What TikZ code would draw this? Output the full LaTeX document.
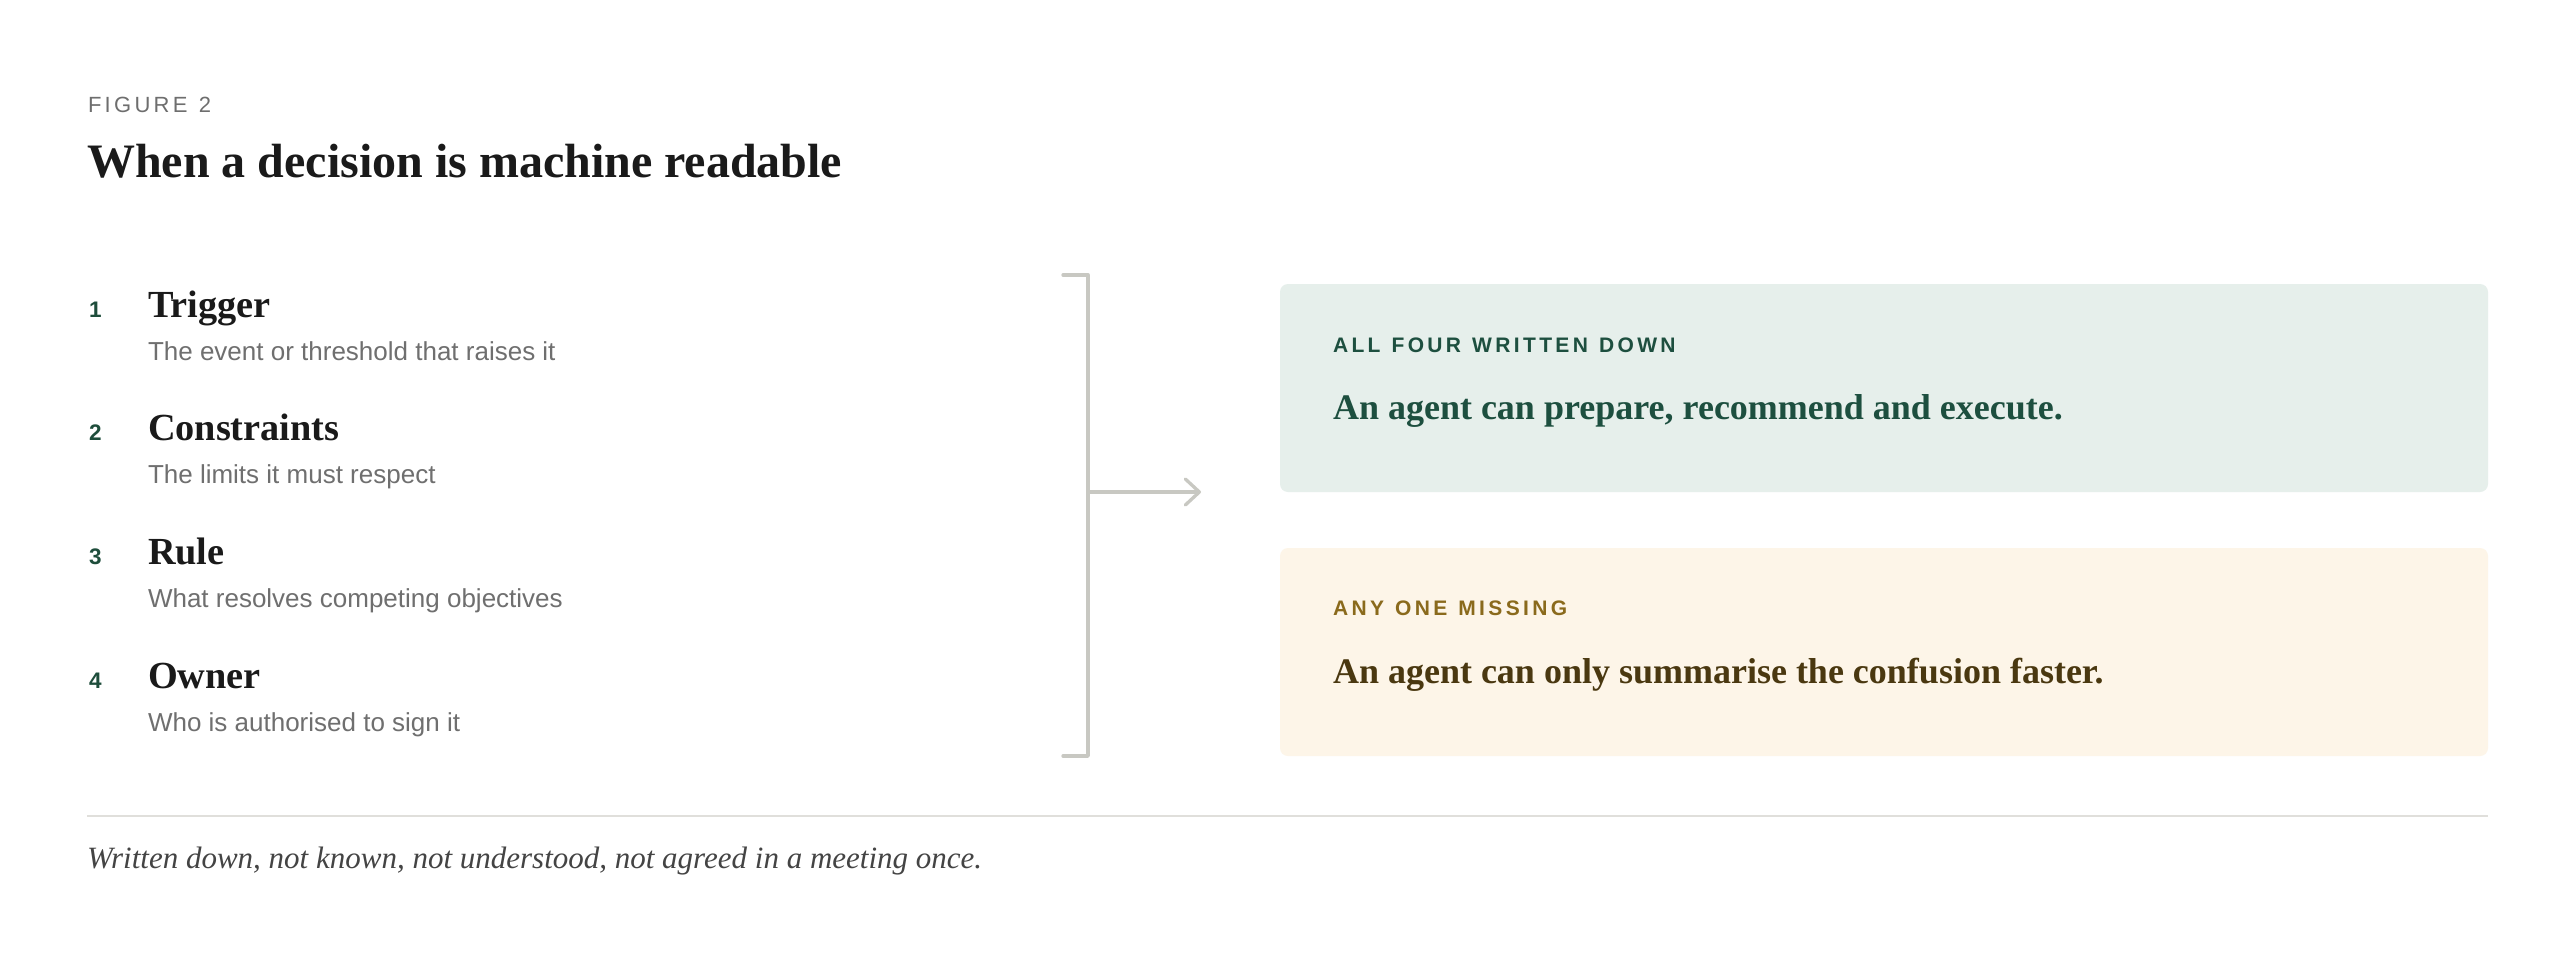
\documentclass[tikz,border=0pt]{standalone}
\usepackage{fontspec}
\setmainfont{Liberation Serif}
\setsansfont{Liberation Sans}
\newfontfamily\trackfont{Liberation Sans}[LetterSpace=15,WordSpace=1.2]
\newfontfamily\trackfontb{Liberation Sans}[LetterSpace=16,WordSpace=1.2]
\usetikzlibrary{arrows.meta}
\definecolor{ink}{HTML}{1A1A1A}
\definecolor{figgray}{HTML}{6E6E6E}
\definecolor{subgray}{HTML}{6F6F6F}
\definecolor{numgreen}{HTML}{1E4D3B}
\definecolor{bracketgray}{HTML}{C8C8C2}
\definecolor{rulegray}{HTML}{E0DFDB}
\definecolor{greenfill}{HTML}{E6EFEB}
\definecolor{greentext}{HTML}{1D4F3F}
\definecolor{ambfill}{HTML}{FDF5E8}
\definecolor{amblabel}{HTML}{8A6A1C}
\definecolor{ambtext}{HTML}{4A3810}
\definecolor{footgray}{HTML}{444444}
\begin{document}
\begin{tikzpicture}[x=1pt,y=-1pt,
  txt/.style={anchor=base west, inner sep=0pt, outer sep=0pt},
  numstyle/.style={txt, text=numgreen, font=\sffamily\bfseries\fontsize{22.5}{26}\selectfont},
  itemtitle/.style={txt, text=ink, font=\bfseries\fontsize{38.3}{44}\selectfont},
  itemsub/.style={txt, text=subgray, font=\sffamily\fontsize{26}{30}\selectfont},
  panel/.style={rounded corners=8pt, draw=none},
  boxlabel/.style={txt, font=\trackfontb\bfseries\fontsize{21}{25}\selectfont},
  boxbody/.style={txt, font=\bfseries\fontsize{36}{42}\selectfont},
  bracketline/.style={draw=bracketgray, line width=3.3pt, line cap=round, line join=round}
]
\useasboundingbox[fill=white] (0,0) rectangle (2576,956);

% header
\node[txt, font=\trackfont\fontsize{22}{26}\selectfont, text=figgray] (fig) at (88,112) {FIGURE 2};
\node[txt, font=\bfseries\fontsize{48}{56}\selectfont, text=ink] (title) at (87,177) {When a decision is machine readable};

% items
\node[numstyle] (n1) at (89,317) {1};
\node[itemtitle] (t1) at (148,317) {Trigger};
\node[itemsub] (s1) at (148,360) {The event or threshold that raises it};

\node[numstyle] (n2) at (89,440.7) {2};
\node[itemtitle] (t2) at (148,440.7) {Constraints};
\node[itemsub] (s2) at (148,483.7) {The limits it must respect};

\node[numstyle] (n3) at (89,564.3) {3};
\node[itemtitle] (t3) at (148,564.3) {Rule};
\node[itemsub] (s3) at (148,607.3) {What resolves competing objectives};

\node[numstyle] (n4) at (89,688) {4};
\node[itemtitle] (t4) at (148,688) {Owner};
\node[itemsub] (s4) at (148,731) {Who is authorised to sign it};

% bracket
\coordinate (btl) at (1063,275);
\coordinate (btr) at (1088,275);
\coordinate (bbr) at (1088,756);
\coordinate (bbl) at (1063,756);
\coordinate (bmid) at (1088,492);
\coordinate (atip) at (1201,492);
\draw[bracketline] (btl) -- (btr) -- (bbr) -- (bbl);
\draw[bracketline, -{Straight Barb[length=14pt,width=26pt,round]}] (bmid) -- (atip);

% panels
\fill[panel, greenfill] (1280,284) rectangle (2488,492);
\node[boxlabel, text=greentext] (gl) at (1333,352) {ALL FOUR WRITTEN DOWN};
\node[boxbody, text=greentext] (gb) at (1333,419) {An agent can prepare, recommend and execute.};

\fill[panel, ambfill] (1280,548) rectangle (2488,756);
\node[boxlabel, text=amblabel] (al) at (1333,615) {ANY ONE MISSING};
\node[boxbody, text=ambtext] (ab) at (1333,683) {An agent can only summarise the confusion faster.};

% footer
\coordinate (rl) at (87,816);
\coordinate (rr) at (2488,816);
\draw[draw=rulegray, line width=2pt] (rl) -- (rr);
\node[txt, font=\itshape\fontsize{31}{36}\selectfont, text=footgray] (foot) at (87,868) {Written down, not known, not understood, not agreed in a meeting once.};
\end{tikzpicture}
\end{document}
